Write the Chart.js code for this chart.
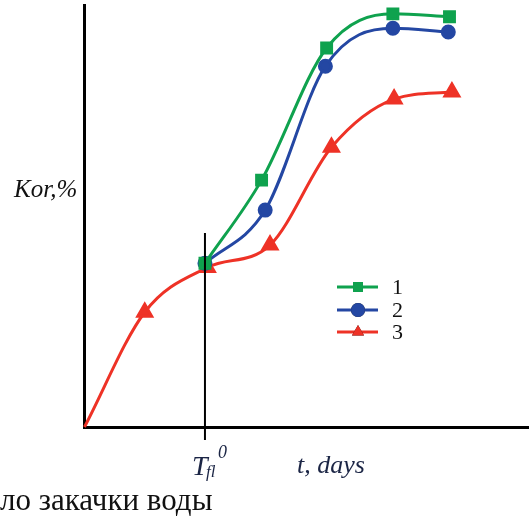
<!DOCTYPE html>
<html>
<head>
<meta charset="utf-8">
<script src="https://cdn.jsdelivr.net/npm/chart.js@4.4.0/dist/chart.umd.min.js"></script>
<style>
  html, body { margin: 0; padding: 0; background: #fff; }
  #wrap { width: 529px; height: 517px; position: relative; }
</style>
</head>
<body>
<div id="wrap"><canvas id="chart"></canvas></div>
<script>
// ==============================
// Данные (t в условных единицах, Kor в %)
// ==============================
const T_FL = 1.0;
const X_MAX = 3.69;
const Y_MAX = 100;

const series1X = [1.0, 1.47, 2.01, 2.56, 3.03];
const series1Y = [38.8, 58.5, 89.8, 97.9, 97.2];

const series2X = [1.0, 1.50, 2.0, 2.56, 3.02];
const series2Y = [38.8, 51.4, 85.5, 94.5, 93.6];

const series3X = [0, 0.50, 1.02, 1.54, 2.05, 2.57, 3.05];
const series3Y = [0, 27.2, 37.8, 43.1, 66.3, 77.7, 79.4];

const seriesLabels = ["1", "2", "3"];
const seriesColors = ["#0fa24e", "#2447a3", "#ee3226"];

const yTitle = "Kor,%";
const xTitle = "t, days";
const bottomCaption = "ло закачки воды";

const toPoints = (xs, ys) => xs.map((x, i) => ({ x, y: ys[i] }));

// ==============================
// Подписи, вертикаль T_fl и легенда
// ==============================
const decorPlugin = {
  id: "decor",
  afterDatasetsDraw(chart) {
    const { ctx, scales } = chart;
    const xT = scales.x.getPixelForValue(T_FL);

    ctx.save();
    // вертикальная линия начала закачки
    ctx.strokeStyle = "#000";
    ctx.lineWidth = 2;
    ctx.beginPath();
    ctx.moveTo(xT, 233);
    ctx.lineTo(xT, 440);
    ctx.stroke();

    // легенда
    const rows = [287, 310, 332];
    chart.data.datasets.forEach((ds, i) => {
      const y = rows[i];
      ctx.strokeStyle = ds.borderColor;
      ctx.lineWidth = 3;
      ctx.beginPath();
      ctx.moveTo(337, y);
      ctx.lineTo(378, y);
      ctx.stroke();
      Chart.helpers.drawPoint(ctx, {
        pointStyle: ds.pointStyle, radius: 7, rotation: 0, borderWidth: 0
      }, 358, y);
      ctx.fillStyle = ds.borderColor;
      ctx.fill();
      ctx.fillStyle = "#111";
      ctx.font = "22px 'Liberation Serif'";
      ctx.textBaseline = "middle";
      ctx.textAlign = "left";
      ctx.fillText(ds.label, 392, y + 1);
    });

    // подписи осей
    ctx.textBaseline = "alphabetic";
    ctx.fillStyle = "#111";
    ctx.font = "italic 25px 'Liberation Serif'";
    ctx.fillText(yTitle, 14, 197);

    ctx.fillStyle = "#1b2545";
    ctx.font = "italic 26px 'Liberation Serif'";
    ctx.fillText(xTitle, 297, 473);

    ctx.font = "italic 28px 'Liberation Serif'";
    ctx.fillText("T", xT - 13, 475);
    ctx.font = "italic 17px 'Liberation Serif'";
    ctx.fillText("fl", xT + 1, 477);
    ctx.font = "italic 18px 'Liberation Serif'";
    ctx.fillText("0", xT + 13, 458);

    ctx.fillStyle = "#111";
    ctx.font = "31px 'Liberation Serif'";
    ctx.fillText(bottomCaption, 0, 510);
    ctx.restore();
  }
};

const ctx = document.getElementById("chart").getContext("2d");
new Chart(ctx, {
  type: "line",
  data: {
    datasets: [
      {
        label: seriesLabels[0], data: toPoints(series1X, series1Y),
        borderColor: seriesColors[0], backgroundColor: seriesColors[0],
        pointStyle: "rect", pointRadius: 7, borderWidth: 3
      },
      {
        label: seriesLabels[1], data: toPoints(series2X, series2Y),
        borderColor: seriesColors[1], backgroundColor: seriesColors[1],
        pointStyle: "circle", pointRadius: 6, borderWidth: 3
      },
      {
        label: seriesLabels[2], data: toPoints(series3X, series3Y),
        borderColor: seriesColors[2], backgroundColor: seriesColors[2],
        pointStyle: "triangle", pointRadius: series3X.map((x, i) => i === 0 ? 0 : 8),
        borderWidth: 3
      }
    ]
  },
  options: {
    responsive: true,
    maintainAspectRatio: false,
    animation: false,
    clip: false,
    layout: { autoPadding: false, padding: { top: 5, right: 0, left: 0, bottom: 0 } },
    plugins: { legend: { display: false }, tooltip: { enabled: false } },
    elements: {
      point: { borderWidth: 0 },
      line: { cubicInterpolationMode: "monotone" }
    },
    scales: {
      x: {
        type: "linear", min: 0, max: X_MAX,
        grid: { display: false, drawTicks: false },
        ticks: { display: false },
        border: { display: true, color: "#000", width: 3 },
        afterFit(s) { s.height = 90; }
      },
      y: {
        type: "linear", min: 0, max: Y_MAX,
        grid: { display: false, drawTicks: false },
        ticks: { display: false },
        border: { display: true, color: "#000", width: 3 },
        afterFit(s) { s.width = 84.5; }
      }
    }
  },
  plugins: [decorPlugin]
});
</script>
</body>
</html>
